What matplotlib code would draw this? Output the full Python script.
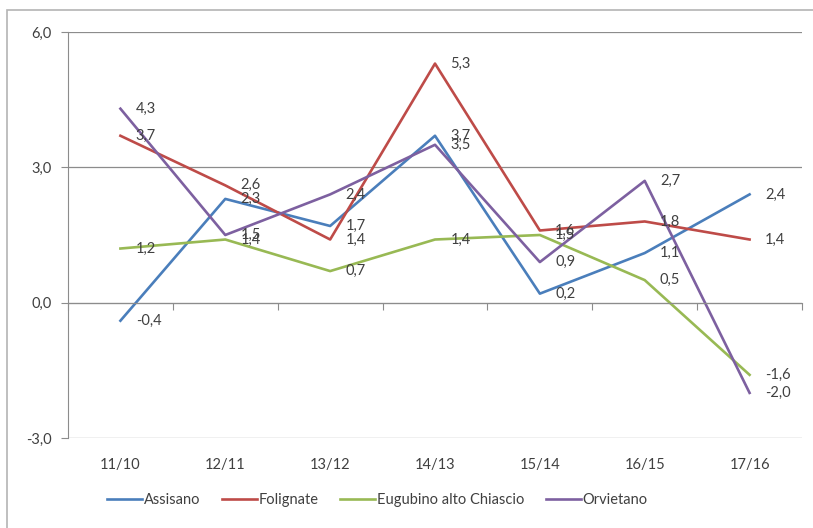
import numpy as np
import matplotlib
matplotlib.use("Agg")
import matplotlib.pyplot as plt
import matplotlib.transforms as mtransforms
from matplotlib.patches import Rectangle

plt.rcParams['font.family'] = ['Lato', 'DejaVu Sans']

# variazioni annue per area
anni = ['11/10', '12/11', '13/12', '14/13', '15/14', '16/15', '17/16']
assisano = [-0.4, 2.3, 1.7, 3.7, 0.2, 1.1, 2.4]
folignate = [3.7, 2.6, 1.4, 5.3, 1.6, 1.8, 1.4]
eugubino = [1.2, 1.4, 0.7, 1.4, 1.5, 0.5, -1.6]
orvietano = [4.3, 1.5, 2.4, 3.5, 0.9, 2.7, -2.0]

serie = [
    ('Assisano', assisano, '#4A7EBB'),
    ('Folignate', folignate, '#BE4B48'),
    ('Eugubino alto Chiascio', eugubino, '#98B954'),
    ('Orvietano', orvietano, '#7D60A0'),
]
yticks = [-3, 0, 3, 6]
ytick_labels = ['-3,0', '0,0', '3,0', '6,0']

testo = '#404040'
griglia = '#8C8C8C'

fig = plt.figure(figsize=(8.13, 5.28), dpi=100)
ax = fig.add_axes([68 / 813, 90 / 528, 734 / 813, 406 / 528])

# bordo esterno del grafico
fig.patches.append(Rectangle((7 / 813, -0.05), 1.0, (518 / 528) + 0.05,
                             transform=fig.transFigure, fill=False,
                             edgecolor='#B4B4B4', linewidth=1.2))

x = np.arange(len(anni))
for nome, valori, colore in serie:
    ax.plot(x, valori, color=colore, linewidth=1.9, label=nome)
    for xi, v in zip(x, valori):
        ax.annotate(f'{v:.1f}'.replace('.', ','), (xi, v), xytext=(11, 0),
                    textcoords='offset points', ha='left', va='center',
                    fontsize=10.5, color=testo)

ax.set_xlim(-0.5, len(anni) - 0.5)
ax.set_ylim(-3, 6)
ax.set_yticks(yticks)
ax.set_yticklabels(ytick_labels)
ax.tick_params(axis='y', length=5, width=0.8, color=griglia, pad=7,
               labelsize=10.5, labelcolor=testo)
ax.yaxis.grid(True, color=griglia, linewidth=0.9)
ax.set_axisbelow(True)

# asse delle categorie sullo zero, tacche tra le categorie
ax.spines['bottom'].set_position(('data', 0))
ax.spines['bottom'].set_color(griglia)
ax.spines['left'].set_color(griglia)
ax.spines['top'].set_visible(False)
ax.spines['right'].set_visible(False)
ax.set_xticks(np.arange(len(anni) + 1) - 0.5)
ax.set_xticklabels([])
ax.tick_params(axis='x', length=5, width=0.8, color=griglia, direction='out')

trans = mtransforms.blended_transform_factory(ax.transData, ax.transAxes)
for xi, etichetta in zip(x, anni):
    ax.text(xi, -0.067, etichetta, transform=trans, ha='center', va='center',
            fontsize=10.5, color=testo)

ax.legend(loc='center', bbox_to_anchor=(0.464, 28 / 528),
          bbox_transform=fig.transFigure, ncol=4, frameon=False,
          handlelength=2.4, handletextpad=0.1, columnspacing=1.5,
          fontsize=10.5, labelcolor=testo)

fig.savefig('out.png', dpi=100)
